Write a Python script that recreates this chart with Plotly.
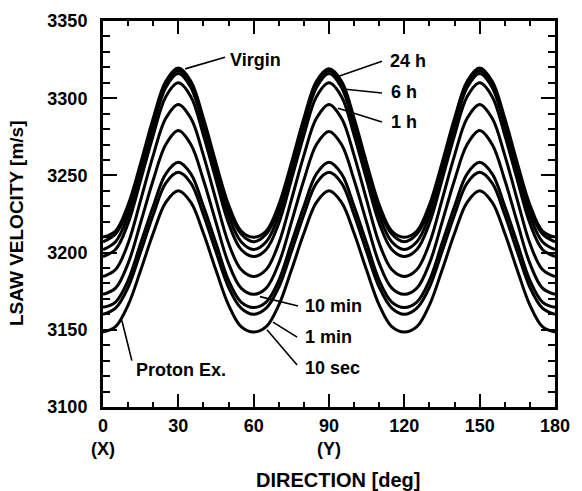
import plotly.graph_objects as go

# Direction [deg]
direction = [0, 5, 10, 15, 20, 25, 30, 35, 40, 45, 50, 55, 60,
             65, 70, 75, 80, 85, 90, 95, 100, 105, 110, 115, 120,
             125, 130, 135, 140, 145, 150, 155, 160, 165, 170, 175, 180]

# LSAW velocity [m/s]
virgin = [3210, 3214, 3231, 3258, 3287, 3311, 3319.5, 3311, 3287, 3258, 3231, 3214, 3210,
          3214, 3231, 3258, 3287, 3311, 3319, 3311, 3287, 3258, 3231, 3214, 3210,
          3214, 3231, 3258, 3287, 3311, 3319.5, 3311, 3287, 3258, 3231, 3214, 3210]
h24 = [3207, 3212, 3228, 3256, 3285, 3309, 3318, 3309, 3285, 3256, 3228, 3212, 3207,
       3212, 3228, 3256, 3285, 3309, 3318, 3309, 3285, 3256, 3228, 3212, 3207,
       3212, 3228, 3256, 3285, 3309, 3318, 3309, 3285, 3256, 3228, 3212, 3207]
h6 = [3202, 3207, 3224, 3252, 3282, 3307, 3316, 3307, 3282, 3252, 3224, 3207, 3202,
      3207, 3224, 3252, 3282, 3307, 3316, 3307, 3282, 3252, 3224, 3207, 3202,
      3207, 3224, 3252, 3282, 3307, 3316, 3307, 3282, 3252, 3224, 3207, 3202]
h3 = [3197.5, 3202, 3219, 3247, 3276, 3301, 3310, 3301, 3276, 3247, 3219, 3202, 3197.5,
      3202, 3219, 3247, 3276, 3301, 3310, 3301, 3276, 3247, 3219, 3202, 3197.5,
      3202, 3219, 3247, 3276, 3301, 3310, 3301, 3276, 3247, 3219, 3202, 3197.5]
h1 = [3184.5, 3189, 3206, 3234, 3263, 3287, 3296, 3287, 3263, 3234, 3206, 3189, 3184.5,
      3189, 3206, 3234, 3263, 3287, 3296, 3287, 3263, 3234, 3206, 3189, 3184.5,
      3189, 3206, 3234, 3263, 3287, 3296, 3287, 3263, 3234, 3206, 3189, 3184.5]
min10 = [3173, 3177, 3193, 3219.5, 3247, 3270, 3279, 3270, 3247, 3219.5, 3193, 3177, 3173,
         3177, 3193, 3219.5, 3247, 3270, 3278.5, 3270, 3247, 3219.5, 3193, 3177, 3173,
         3177, 3193, 3219.5, 3247, 3270, 3279, 3270, 3247, 3219.5, 3193, 3177, 3173]
min1 = [3164.5, 3168, 3182, 3206, 3230, 3251, 3258.5, 3251, 3230, 3206, 3182, 3168, 3164.5,
        3168, 3182, 3206, 3230, 3251, 3258.5, 3251, 3230, 3206, 3182, 3168, 3164.5,
        3168, 3182, 3206, 3230, 3251, 3258.5, 3251, 3230, 3206, 3182, 3168, 3164.5]
sec10 = [3160, 3164, 3177.5, 3200.5, 3224.5, 3245, 3252, 3245, 3224.5, 3200.5, 3177.5, 3164, 3160,
         3164, 3177.5, 3200.5, 3224.5, 3245, 3252, 3245, 3224.5, 3200.5, 3177.5, 3164, 3160,
         3164, 3177.5, 3200.5, 3224.5, 3245, 3252, 3245, 3224.5, 3200.5, 3177.5, 3164, 3160]
proton = [3148.5, 3152, 3166, 3188.5, 3212.5, 3232.5, 3240, 3232.5, 3212.5, 3188.5, 3166, 3152, 3148.5,
          3152, 3166, 3188.5, 3212.5, 3232.5, 3240, 3232.5, 3212.5, 3188.5, 3166, 3152, 3148.5,
          3152, 3166, 3188.5, 3212.5, 3232.5, 3240, 3232.5, 3212.5, 3188.5, 3166, 3152, 3148.5]

series = [virgin, h24, h6, h3, h1, min10, min1, sec10, proton]

x_tickvals = [0, 30, 60, 90, 120, 150, 180]
x_ticktext = ["0<br>(X)", "30", "60", "90<br>(Y)", "120", "150", "180"]
y_tickvals = [3100, 3150, 3200, 3250, 3300, 3350]

# label text, text anchor (x, y), leader line end on curve (x, y)
label_text = ["Virgin", "24 h", "6 h", "1 h", "10 min", "1 min", "10 sec", "Proton Ex."]
label_pos = [(49.8, 3324.5), (113.5, 3324.0), (113.9, 3304.0), (113.9, 3284.6),
             (79.6, 3165.4), (79.6, 3145.3), (79.6, 3125.3), (12.5, 3124.0)]
leader_start = [(48.6, 3326.5), (111.1, 3324.0), (111.1, 3303.4), (111.1, 3284.6),
                (77.7, 3165.4), (77.3, 3145.3), (77.3, 3127.2), (11.5, 3130.0)]
leader_end = [(32.7, 3319.0), (93.6, 3314.0), (95.6, 3306.0), (93.6, 3293.5),
              (62.5, 3171.5), (67.7, 3155.0), (65.3, 3150.0), (7.5, 3156.0)]

FONT = "Liberation Sans, Arial, Helvetica, sans-serif"

fig = go.Figure()
for s in series:
    fig.add_trace(go.Scatter(x=direction, y=s, mode="lines",
                             line=dict(color="black", width=3, shape="spline", smoothing=1.0),
                             showlegend=False, hoverinfo="skip"))

for (x0, y0), (x1, y1) in zip(leader_start, leader_end):
    fig.add_shape(type="line", xref="x", yref="y", x0=x0, y0=y0, x1=x1, y1=y1,
                  line=dict(color="black", width=1.6))

for t, (x, y) in zip(label_text, label_pos):
    fig.add_annotation(x=x, y=y, xref="x", yref="y", text="<b>%s</b>" % t, showarrow=False,
                       xanchor="left", yanchor="middle",
                       font=dict(family=FONT, size=18, color="black"))

fig.add_annotation(x=0.52, y=-0.19, xref="paper", yref="paper", text="<b>DIRECTION [deg]</b>",
                   showarrow=False, xanchor="center", yanchor="middle",
                   font=dict(family=FONT, size=20, color="black"))
fig.add_annotation(x=-0.19, y=0.477, xref="paper", yref="paper", text="<b>LSAW VELOCITY [m/s]</b>",
                   showarrow=False, textangle=-90, xanchor="center", yanchor="middle",
                   font=dict(family=FONT, size=19, color="black"))

axis_common = dict(showgrid=False, zeroline=False, showline=True, linecolor="black",
                   linewidth=3, mirror="ticks", ticks="inside", tickcolor="black",
                   tickwidth=2, tickfont=dict(family=FONT, size=18, color="black", weight="bold"))

fig.update_xaxes(range=[0, 180], tickvals=x_tickvals, ticktext=x_ticktext, ticklen=13,
                 minor=dict(dtick=10, tick0=0, ticks="inside", ticklen=5, tickwidth=2,
                            tickcolor="black"),
                 **axis_common)
fig.update_yaxes(range=[3100, 3350], tickvals=y_tickvals, ticklen=14,
                 minor=dict(dtick=10, tick0=3100, ticks="inside", ticklen=7, tickwidth=2,
                            tickcolor="black"),
                 ticklabelstandoff=9,
                 **axis_common)

fig.update_layout(width=582, height=491, margin=dict(l=103, r=27, t=21, b=84),
                  plot_bgcolor="white", paper_bgcolor="white",
                  font=dict(family=FONT, size=18, color="black"))

fig.write_html("out.html")
